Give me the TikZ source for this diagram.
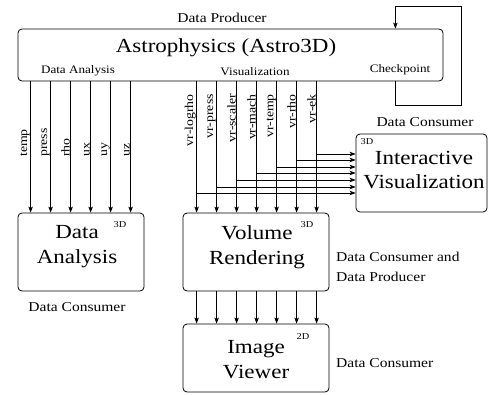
\documentclass[tikz,border=0pt]{standalone}
\usepackage{fontspec}
\setmainfont{Liberation Serif}[FakeStretch=1.15]
\usetikzlibrary{arrows.meta}
\begin{document}
\begin{tikzpicture}[x=1pt,y=-1pt,
  box/.style={draw, rounded corners=4pt, line width=0.8pt, inner sep=0pt},
  arr/.style={-{Stealth[length=6pt,width=4.5pt,inset=1.5pt]}, line width=0.7pt},
  ln/.style={line width=0.7pt},
  bigtxt/.style={font=\fontsize{20}{25}\selectfont, align=center, inner sep=0pt},
  outtxt/.style={font=\fontsize{13.5}{20}\selectfont, align=left, inner sep=0pt},
  intxt/.style={font=\fontsize{11.4}{14}\selectfont, inner sep=0pt},
  dimtxt/.style={font=\fontsize{9}{10}\selectfont, inner sep=0pt},
  rottxt/.style={font=\fontsize{12}{14}\selectfont, rotate=90, inner sep=0pt}]
\useasboundingbox (0,0) rectangle (489,394);

% boxes
\node[box, minimum width=425pt, minimum height=52pt] (main) at (230.5,55) {};
\node[box, minimum width=126pt, minimum height=78pt] (da) at (81,252) {};
\node[box, minimum width=146pt, minimum height=78pt] (vr) at (256,252) {};
\node[box, minimum width=146pt, minimum height=68pt] (iv) at (256,358) {};
\node[box, minimum width=131pt, minimum height=78pt] (ivis) at (421.5,173) {};

% texts
\node[outtxt] (prod) at (222,18) {Data Producer};
\node[bigtxt] (mtitle) at (226,48) {Astrophysics (Astro3D)};
\node[intxt] (tda) at (78,71) {Data Analysis};
\node[intxt] (tvis) at (255,72) {Visualization};
\node[intxt] (tcp) at (400,70) {Checkpoint};

\node[bigtxt] (datxt) at (77,247) {Data\\Analysis};
\node[dimtxt] (da3) at (120,225) {3D};
\node[outtxt] (dacons) at (77,307) {Data Consumer};

\node[bigtxt] (vrtxt) at (257,247) {Volume\\Rendering};
\node[dimtxt] (vr3) at (307,225) {3D};
\node[outtxt, anchor=west] (vrcons) at (336,267) {Data Consumer and\\Data Producer};

\node[bigtxt] (ivtxt) at (256,360) {Image\\Viewer};
\node[dimtxt] (iv2) at (303,337) {2D};
\node[outtxt, anchor=west] (ivcons) at (336,363) {Data Consumer};

\node[bigtxt, font=\fontsize{20}{23.5}\selectfont] (ivistxt) at (424,170) {Interactive\\Visualization};
\node[dimtxt] (ivis3) at (367,142) {3D};
\node[outtxt] (iviscons) at (425,122) {Data Consumer};

% data analysis connectors
\foreach \n [count=\i from 0] in {temp,press,rho,ux,uy,uz}{
  \pgfmathsetmacro{\o}{13+20*\i}
  \draw[arr] ([xshift=\o pt]main.south west) -- ([xshift=\o pt]da.north west);
  \node[rottxt, anchor=south west] (l\n) at (30+20*\i,157) {\n};
}

% visualization connectors
\foreach \n/\yb [count=\i from 0] in {logrho/193,press/187,scaler/180,mach/173,temp/167,rho/160,ek/154}{
  \pgfmathsetmacro{\o}{179+20*\i}
  \pgfmathsetmacro{\p}{14+20*\i}
  \draw[arr] ([xshift=\o pt]main.south west) -- ([xshift=\p pt]vr.north west);
  \node[rottxt, anchor=south east] (v\n) at (196+20*\i,94) {vr-\n};
  \coordinate (b\i) at (197+20*\i,\yb);
  \draw[arr] (b\i) -- (b\i -| ivis.west);
  \draw[arr] ([xshift=\p pt]vr.south west) -- ([xshift=\p pt]iv.north west);
}

% checkpoint loop
\draw[arr] ([xshift=-48pt]main.south east) -- ++(0,24) -- ++(66,0) -- ++(0,-99) -- ++(-66,0) -- ([xshift=-48pt]main.north east);
\end{tikzpicture}
\end{document}
